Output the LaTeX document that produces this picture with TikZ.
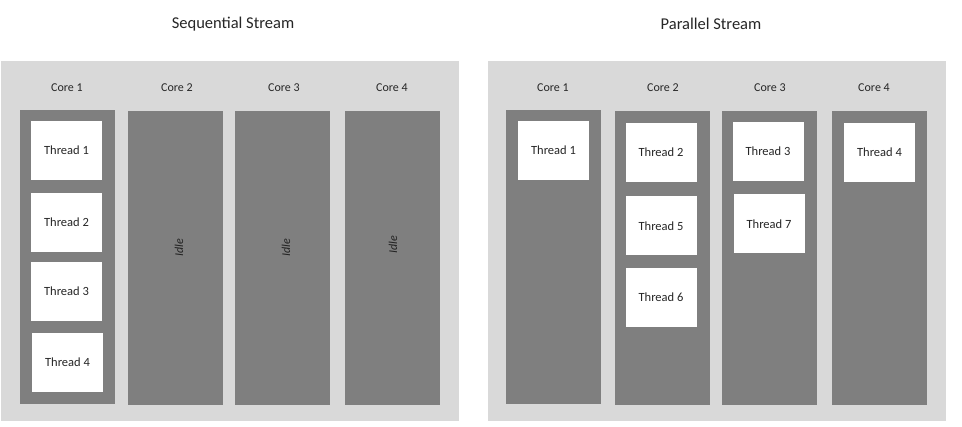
\documentclass[tikz,border=0pt]{standalone}
\usepackage{fontspec}
\setmainfont{Carlito}
\definecolor{panelbg}{HTML}{D9D9D9}
\definecolor{colbg}{HTML}{7F7F7F}
\definecolor{txt}{HTML}{262626}
\begin{document}
\begin{tikzpicture}[x=1pt,y=-1pt,
  panel/.style={fill=panelbg, draw=none, minimum width=458pt, minimum height=360pt, inner sep=0pt},
  corecol/.style={fill=colbg, draw=none, minimum width=95pt, minimum height=294pt, inner sep=0pt},
  thread/.style={fill=white, draw=none, minimum width=71pt, minimum height=59pt, inner sep=0pt, text=txt, font=\fontsize{12.5}{14}\selectfont},
  corelabel/.style={text=txt, font=\fontsize{12}{14}\selectfont, inner sep=0pt},
  title/.style={text=txt, font=\fontsize{16.5}{19}\selectfont, inner sep=0pt},
  idle/.style={text=txt!90!black, font=\fontsize{12}{14}\itshape, rotate=90, inner sep=0pt}]
\useasboundingbox[fill=white] (0,0) rectangle (962,427);

% titles
\node[title] (tS) at (233,24) {Sequential Stream};
\node[title] (tP) at (711,24) {Parallel Stream};

% panels
\node[panel] (pS) at (230,241) {};
\node[panel] (pP) at (717,241) {};

% sequential
\node[corelabel] (sc1) at (67,88) {Core 1};
\node[corelabel] (sc2) at (177,88) {Core 2};
\node[corelabel] (sc3) at (284,88) {Core 3};
\node[corelabel] (sc4) at (392,88) {Core 4};
\node[corecol] (sk1) at (67,257) {};
\node[corecol] (sk2) at (175.5,258) {};
\node[corecol] (sk3) at (282.5,258) {};
\node[corecol] (sk4) at (392.5,258) {};
\node[thread] (st1) at (66.5,150.5) {Thread 1};
\node[thread] (st2) at (66.5,222.5) {Thread 2};
\node[thread] (st3) at (66.5,291.5) {Thread 3};
\node[thread] (st4) at (67.5,362.5) {Thread 4};
\node[idle] (si2) at (179,248) {Idle};
\node[idle] (si3) at (286,248) {Idle};
\node[idle] (si4) at (393,245) {Idle};

% parallel
\node[corelabel] (pc1) at (553,88) {Core 1};
\node[corelabel] (pc2) at (663,88) {Core 2};
\node[corelabel] (pc3) at (770,88) {Core 3};
\node[corelabel] (pc4) at (874,88) {Core 4};
\node[corecol] (pk1) at (553.5,257) {};
\node[corecol] (pk2) at (662.5,258) {};
\node[corecol] (pk3) at (769.5,258) {};
\node[corecol] (pk4) at (879,258) {};
\node[thread] (pt1) at (553.5,150.5) {Thread 1};
\node[thread] (pt2) at (661,152.5) {Thread 2};
\node[thread] (pt5) at (661,226) {Thread 5};
\node[thread] (pt6) at (661,297.5) {Thread 6};
\node[thread] (pt3) at (768,151.5) {Thread 3};
\node[thread] (pt7) at (769,224) {Thread 7};
\node[thread] (pt4) at (879.5,152.5) {Thread 4};
\end{tikzpicture}
\end{document}
